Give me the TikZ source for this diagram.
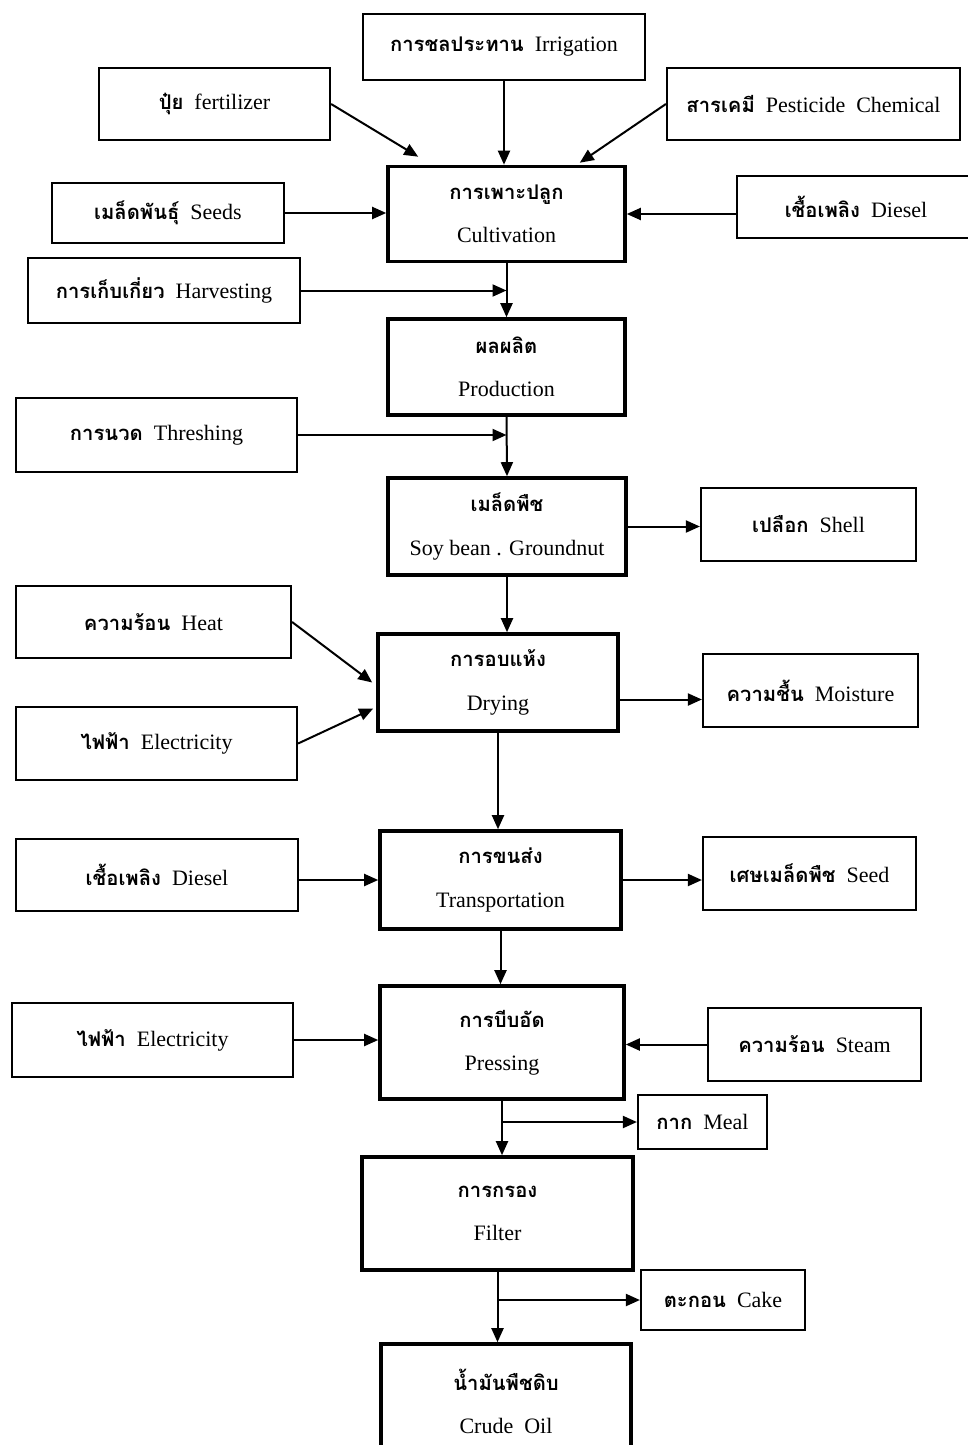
\documentclass[tikz,border=0pt]{standalone}
\usepackage{fontspec}
\setmainfont{Liberation Serif}
\newfontfamily\thai[Script=Thai, Scale=0.92]{Loma}
\usetikzlibrary{arrows.meta}

\begin{document}
\begin{tikzpicture}[
    x=0.5pt, y=-0.5pt,
    process/.style={rectangle, draw=black, line width=1.8pt, align=center, inner sep=2pt,
                    font=\fontsize{11pt}{13.6pt}\selectfont},
    input/.style={rectangle, draw=black, line width=1.1pt, align=center, inner sep=2pt,
                  font=\fontsize{11pt}{13.6pt}\selectfont},
    arr/.style={-{Triangle[length=7pt, width=6pt]}, line width=1pt},
]

\fill[white] (0,0) rectangle (968,1445);
\useasboundingbox (0,0) rectangle (968,1445);

% Cultivation and its inputs
\node[input, minimum width=141pt, minimum height=33pt] (irrig) at (504,47) {{\thai\bfseries การชลประทาน}\enspace Irrigation};
\node[input, minimum width=115.5pt, minimum height=36pt] (fert) at (214.5,104) {{\thai\bfseries ปุ๋ย}\enspace fertilizer};
\node[input, minimum width=146.5pt, minimum height=36pt] (pest) at (813.5,104) {{\thai\bfseries สารเคมี}\enspace Pesticide\enspace Chemical};
\node[process, minimum width=118.5pt, minimum height=47.5pt] (cult) at (506.5,214) {{\thai\bfseries การเพาะปลูก}\\[8pt] Cultivation};
\node[input, minimum width=116pt, minimum height=30pt] (seeds) at (168,213) {{\thai\bfseries เมล็ดพันธุ์}\enspace Seeds};
\node[input, minimum width=119pt, minimum height=31pt] (diesela) at (856,207) {{\thai\bfseries เชื้อเพลิง}\enspace Diesel};
\node[input, minimum width=136pt, minimum height=32.5pt] (harv) at (164,290.5) {{\thai\bfseries การเก็บเกี่ยว}\enspace Harvesting};

% Production
\node[process, minimum width=118.5pt, minimum height=48pt] (prod) at (506.5,367) {{\thai\bfseries ผลผลิต}\\[8pt] Production};
\node[input, minimum width=140.5pt, minimum height=37pt] (thresh) at (156.5,435) {{\thai\bfseries การนวด}\enspace Threshing};

% Seeds
\node[process, minimum width=119pt, minimum height=48.5pt] (grain) at (507,526.5) {{\thai\bfseries เมล็ดพืช}\\[8pt] Soy bean . Groundnut};
\node[input, minimum width=107.5pt, minimum height=36.5pt] (shell) at (808.5,524.5) {{\thai\bfseries เปลือก}\enspace Shell};

% Drying
\node[input, minimum width=137.5pt, minimum height=36pt] (heat) at (153.5,622) {{\thai\bfseries ความร้อน}\enspace Heat};
\node[input, minimum width=140.5pt, minimum height=36.5pt] (eleca) at (156.5,743.5) {{\thai\bfseries ไฟฟ้า}\enspace Electricity};
\node[process, minimum width=120pt, minimum height=48.5pt] (dry) at (498,682.5) {{\thai\bfseries การอบแห้ง}\\[8pt] Drying};
\node[input, minimum width=107.5pt, minimum height=36.5pt] (moist) at (810.5,690.5) {{\thai\bfseries ความชื้น}\enspace Moisture};

% Transportation
\node[input, minimum width=141pt, minimum height=36pt] (dieselb) at (157,875) {{\thai\bfseries เชื้อเพลิง}\enspace Diesel};
\node[process, minimum width=120.5pt, minimum height=49pt] (trans) at (500.5,880) {{\thai\bfseries การขนส่ง}\\[8pt] Transportation};
\node[input, minimum width=106.5pt, minimum height=36.5pt] (waste) at (809.5,873.5) {{\thai\bfseries เศษเมล็ดพืช}\enspace Seed};

% Pressing
\node[input, minimum width=140.5pt, minimum height=37pt] (elecb) at (152.5,1040) {{\thai\bfseries ไฟฟ้า}\enspace Electricity};
\node[process, minimum width=122pt, minimum height=56.5pt] (press) at (502,1042.5) {{\thai\bfseries การบีบอัด}\\[8pt] Pressing};
\node[input, minimum width=106.5pt, minimum height=36.5pt] (steam) at (814.5,1044.5) {{\thai\bfseries ความร้อน}\enspace Steam};
\node[input, minimum width=64.5pt, minimum height=27pt] (meal) at (702.5,1122) {{\thai\bfseries กาก}\enspace Meal};

% Filter
\node[process, minimum width=135.5pt, minimum height=56.5pt] (filter) at (497.5,1213.5) {{\thai\bfseries การกรอง}\\[8pt] Filter};
\node[input, minimum width=82pt, minimum height=30pt] (cake) at (723,1300) {{\thai\bfseries ตะกอน}\enspace Cake};

% Output
\node[process, minimum width=125pt, minimum height=57pt] (crude) at (506,1401) {{\thai\bfseries น้ำมันพืชดิบ}\\[8pt] Crude\enspace Oil};

% Arrows
\draw[arr] (irrig.south) -- (irrig.south |- cult.north);
\draw[arr] (fert.east) -- ([xshift=16pt, yshift=4pt]cult.north west);
\draw[arr] (pest.west) -- ([xshift=-23.5pt, yshift=1pt]cult.north east);
\draw[arr] (seeds.east) -- (seeds.east -| cult.west);
\draw[arr] (diesela.west |- cult) -- (cult.east);
\draw[arr] (cult.south) -- (prod.north);
\draw[arr] (harv.east) -- (harv.east -| cult.south);

\draw[arr] (prod.south) -- (grain.north);
\draw[arr] (thresh.east) -- (thresh.east -| prod.south);
\draw[arr] (grain.east) -- (grain.east -| shell.west);
\draw[arr] (grain.south) -- (grain.south |- dry.north);

\draw[arr] (heat.east) -- ([xshift=-2pt]dry.west);
\draw[arr] (eleca.east) -- ([xshift=-1.5pt, yshift=-13pt]dry.west);
\draw[arr] ([yshift=-8.5pt]dry.east) -- ([yshift=-8.5pt]dry.east -| moist.west);
\draw[arr] (dry.south) -- (dry.south |- trans.north);

\draw[arr] (dieselb.east |- trans) -- (trans.west);
\draw[arr] (trans.east) -- (trans.east -| waste.west);
\draw[arr] (trans.south) -- (trans.south |- press.north);

\draw[arr] (elecb.east) -- (elecb.east -| press.west);
\draw[arr] (steam.west) -- (steam.west -| press.east);
\draw[arr] (press.south) -- (press.south |- filter.north);
\draw[arr] (meal.west -| press.south) -- (meal.west);

\draw[arr] (filter.south) -- (filter.south |- crude.north);
\draw[arr] (cake.west -| filter.south) -- (cake.west);

\end{tikzpicture}
\end{document}
